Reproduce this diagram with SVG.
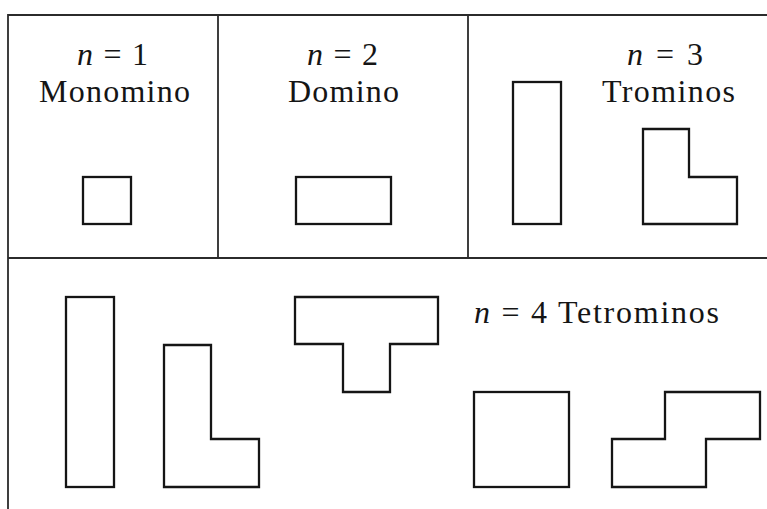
<svg xmlns="http://www.w3.org/2000/svg" width="767" height="509" viewBox="0 0 767 509">
<style>
.frame{fill:none;stroke:#2b2b2b;stroke-width:1.8}
.piece{fill:none;stroke:#151515;stroke-width:2.3;stroke-linejoin:miter}
text{font-family:"Liberation Serif","Times New Roman",serif;font-size:32px;fill:#151515}
.it{font-style:italic}
</style>
<rect width="767" height="509" fill="#fff"/>
<g id="frame">
<path class="frame" d="M8,509 V15 H767 M218,15 V258 M468,15 V258 M8,258 H767"/>
</g>
<g id="monomino">
<text x="77" y="65" textLength="71" lengthAdjust="spacing"><tspan class="it">n</tspan> = 1</text>
<text x="114.5" y="102" text-anchor="middle" textLength="151" lengthAdjust="spacing">Monomino</text>
<rect class="piece" x="83" y="177" width="48" height="47"/>
</g>
<g id="domino">
<text x="307" y="65" textLength="71" lengthAdjust="spacing"><tspan class="it">n</tspan> = 2</text>
<text x="343.5" y="102" text-anchor="middle" textLength="111" lengthAdjust="spacing">Domino</text>
<rect class="piece" x="296" y="177" width="95" height="47"/>
</g>
<g id="trominos">
<text x="627" y="65" textLength="76" lengthAdjust="spacing"><tspan class="it">n</tspan> = 3</text>
<text x="668.5" y="102" text-anchor="middle" textLength="133" lengthAdjust="spacing">Trominos</text>
<rect class="piece" x="513" y="82" width="48" height="142"/>
<path class="piece" d="M643,129 H689 V177 H737 V224 H643 Z"/>
</g>
<g id="tetrominos">
<text x="474" y="323" textLength="245" lengthAdjust="spacing"><tspan class="it">n</tspan> = 4 Tetrominos</text>
<rect class="piece" x="66" y="297" width="48" height="190"/>
<path class="piece" d="M164,345 H211 V439 H259 V487 H164 Z"/>
<path class="piece" d="M295,297 H438 V344 H390 V392 H343 V344 H295 Z"/>
<rect class="piece" x="474" y="392" width="95" height="95"/>
<path class="piece" d="M665,392 H760 V439 H706 V487 H612 V439 H665 Z"/>
</g>
</svg>
